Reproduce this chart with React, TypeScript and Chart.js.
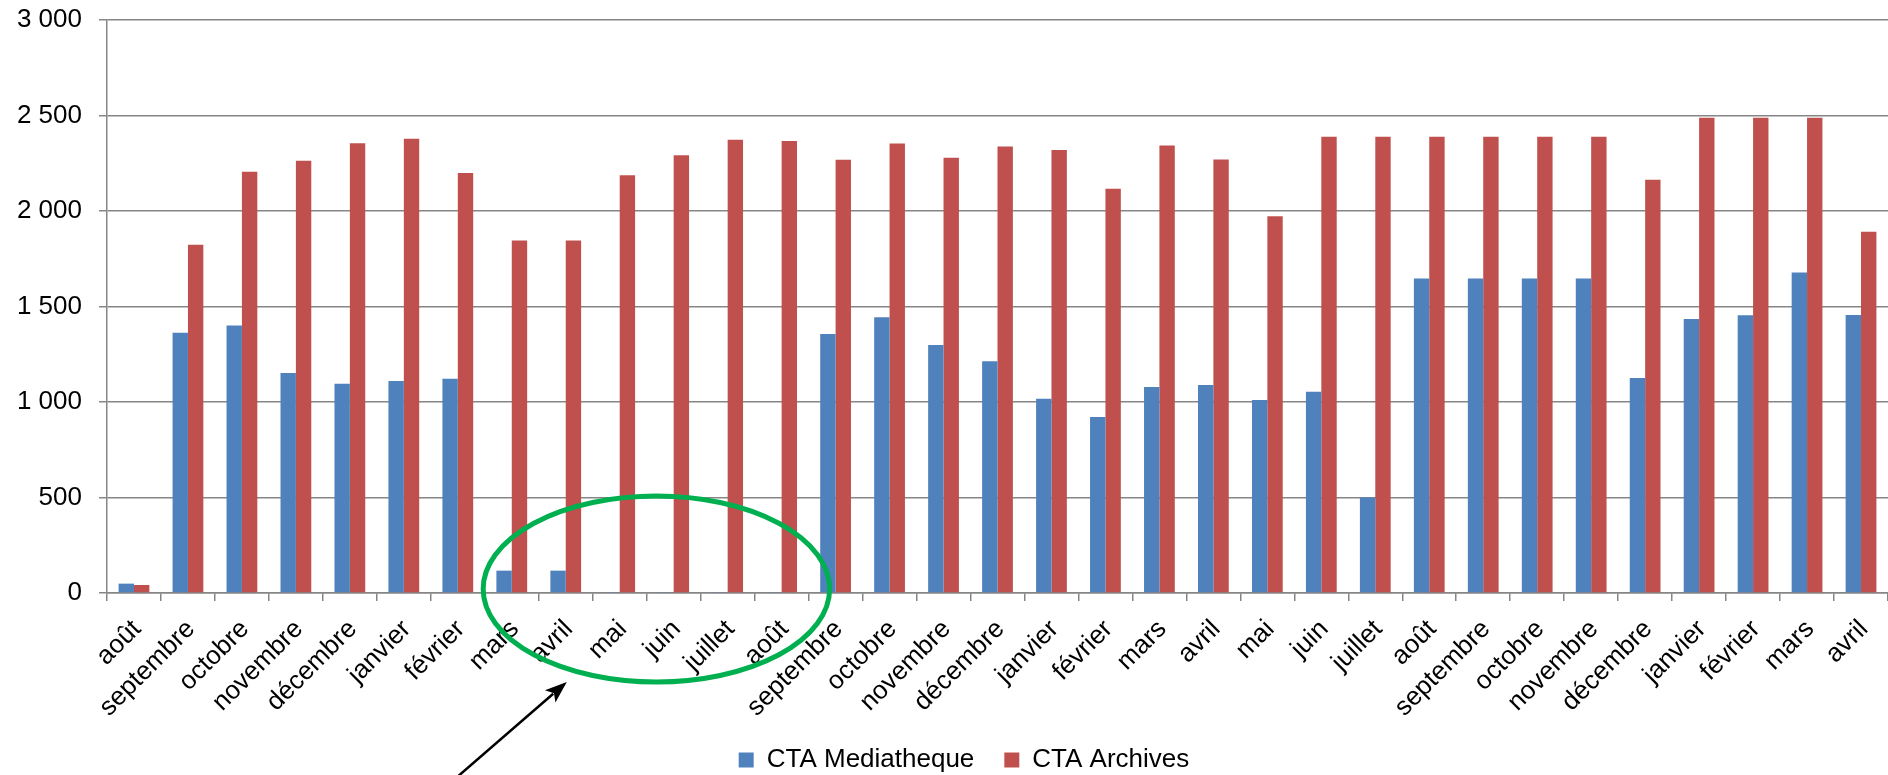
import React, { useEffect, useRef } from "react";
import { Chart, registerables } from "chart.js";

Chart.register(...registerables);

const categories = [
  "août", "septembre", "octobre", "novembre", "décembre", "janvier", "février", "mars", "avril",
  "mai", "juin", "juillet", "août", "septembre", "octobre", "novembre", "décembre", "janvier",
  "février", "mars", "avril", "mai", "juin", "juillet", "août", "septembre", "octobre",
  "novembre", "décembre", "janvier", "février", "mars", "avril",
];

const mediatheque = [
  49, 1362, 1400, 1152, 1096, 1110, 1122, 117, 117,
  5, 5, 5, 5, 1356, 1444, 1299, 1214, 1017,
  921, 1078, 1089, 1010, 1054, 500, 1646, 1646, 1646,
  1646, 1126, 1435, 1454, 1678, 1456,
];

const archives = [
  42, 1823, 2205, 2263, 2355, 2378, 2199, 1846, 1846,
  2187, 2292, 2373, 2366, 2268, 2353, 2279, 2338, 2320,
  2116, 2343, 2270, 1973, 2389, 2389, 2389, 2389, 2389,
  2389, 2163, 2488, 2488, 2488, 1891,
];

const seriesNames = ["CTA Mediatheque", "CTA Archives"];
const yMin = 0;
const yMax = 3000;
const yStep = 500;

const FONT = "'Liberation Sans', Arial, sans-serif";
const GRID = "#868686";

function formatThousands(v: number): string {
  return String(v).replace(/\B(?=(\d{3})+(?!\d))/g, " ");
}

// Nudges the legend block to where the reference places it.
const legendNudgePlugin = {
  id: "legendNudge",
  afterLayout(chart: any) {
    const l = chart.legend;
    if (!l) return;
    l.left += 40;
    l.top -= 6;
    l.bottom -= 6;
  },
};

const annotationPlugin = {
  id: "circleArrow",
  afterDraw(chart: any) {
    const { ctx, scales } = chart;
    const x = scales.x;
    const y = scales.y;
    const zero = y.getPixelForValue(0);
    const cw = x.getPixelForValue(1) - x.getPixelForValue(0);
    ctx.save();
    ctx.beginPath();
    ctx.ellipse(x.getPixelForValue(9.68), zero - 4, cw * 3.21, 93, 0, 0, Math.PI * 2);
    ctx.strokeStyle = "#00B050";
    ctx.lineWidth = 5;
    ctx.stroke();
    const tipX = x.getPixelForValue(8.02);
    const tipY = zero + 89;
    const tailX = x.getPixelForValue(5.86);
    const tailY = zero + 190;
    const ang = Math.atan2(tipY - tailY, tipX - tailX);
    const headLen = 22;
    const headHalf = 8;
    const baseX = tipX - headLen * Math.cos(ang);
    const baseY = tipY - headLen * Math.sin(ang);
    ctx.beginPath();
    ctx.moveTo(tailX, tailY);
    ctx.lineTo(baseX + 4 * Math.cos(ang), baseY + 4 * Math.sin(ang));
    ctx.strokeStyle = "#000";
    ctx.lineWidth = 2.5;
    ctx.stroke();
    ctx.beginPath();
    ctx.moveTo(tipX, tipY);
    ctx.lineTo(baseX - headHalf * Math.sin(ang), baseY + headHalf * Math.cos(ang));
    ctx.lineTo(baseX + 5 * Math.cos(ang), baseY + 5 * Math.sin(ang));
    ctx.lineTo(baseX + headHalf * Math.sin(ang), baseY - headHalf * Math.cos(ang));
    ctx.closePath();
    ctx.fillStyle = "#000";
    ctx.fill();
    ctx.restore();
  },
};

export default function App() {
  const canvasRef = useRef<HTMLCanvasElement | null>(null);

  useEffect(() => {
    if (!canvasRef.current) return;
    const chart = new Chart(canvasRef.current, {
      type: "bar",
      data: {
        labels: categories,
        datasets: [
          {
            label: seriesNames[0],
            data: mediatheque,
            backgroundColor: "#4F81BD",
            borderWidth: 0,
            barPercentage: 1,
            categoryPercentage: 0.57,
          },
          {
            label: seriesNames[1],
            data: archives,
            backgroundColor: "#C0504D",
            borderWidth: 0,
            barPercentage: 1,
            categoryPercentage: 0.57,
          },
        ],
      },
      options: {
        animation: false,
        responsive: true,
        maintainAspectRatio: false,
        events: [],
        layout: { padding: { left: 0, top: 20, right: 0, bottom: -14 } },
        plugins: {
          tooltip: { enabled: false },
          legend: {
            position: "bottom",
            labels: {
              font: { family: FONT, size: 26 },
              color: "#000",
              boxWidth: 15,
              boxHeight: 15,
              padding: 30,
            },
          },
        },
        scales: {
          x: {
            afterFit: (s: any) => {
              s.height = 130;
              s.paddingLeft = 0;
              s.paddingRight = 0;
            },
            grid: {
              display: true,
              drawOnChartArea: false,
              drawTicks: true,
              tickLength: 8,
              color: GRID,
              lineWidth: 1.5,
            },
            border: { display: true, color: GRID, width: 1.5 },
            ticks: {
              autoSkip: false,
              minRotation: 45,
              maxRotation: 45,
              padding: 13,
              labelOffset: 3,
              color: "#000",
              font: { family: FONT, size: 26 },
            },
          },
          y: {
            min: yMin,
            max: yMax,
            afterFit: (s: any) => {
              s.width = 107;
              s.paddingTop = 0;
              s.paddingBottom = 0;
            },
            grid: {
              color: GRID,
              lineWidth: 1.5,
              tickLength: 8,
              drawTicks: true,
            },
            border: { display: true, color: GRID, width: 1.5 },
            ticks: {
              stepSize: yStep,
              padding: 17,
              color: "#000",
              font: { family: FONT, size: 26 },
              callback: (v: any) => formatThousands(Number(v)),
            },
          },
        },
      },
      plugins: [legendNudgePlugin, annotationPlugin],
    });
    return () => chart.destroy();
  }, []);

  return (
    <div style={{ position: "absolute", left: 0, top: 0, width: 1888, height: 775, background: "#fff" }}>
      <canvas ref={canvasRef} />
    </div>
  );
}
